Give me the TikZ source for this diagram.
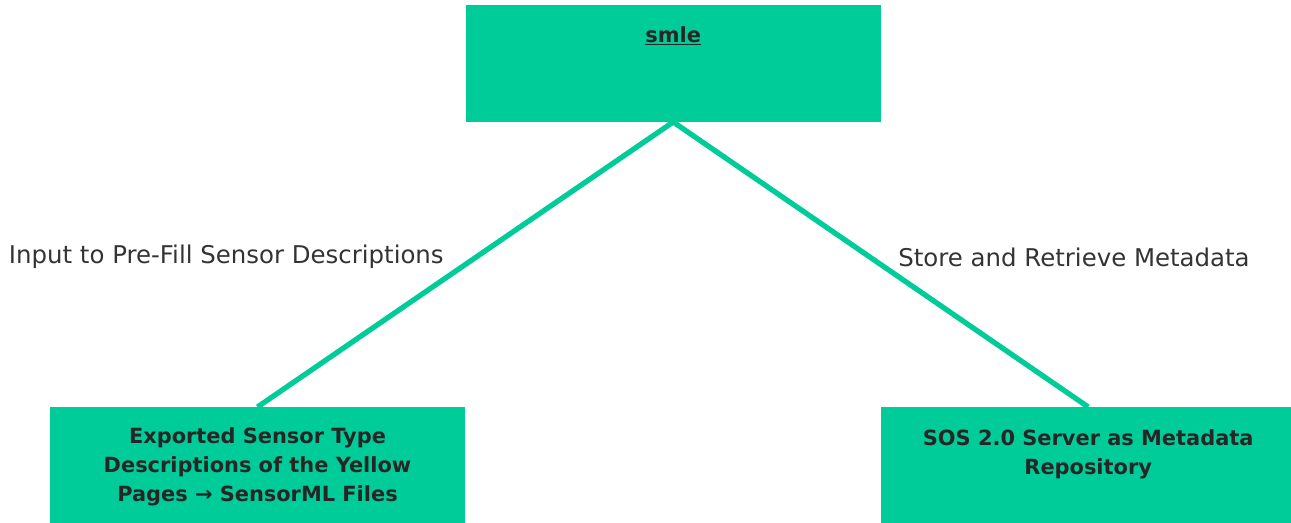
\documentclass[tikz,border=0pt]{standalone}
\usepackage{fontspec}
\setmainfont{DejaVu Sans}
\usetikzlibrary{positioning}

\definecolor{smlegreen}{RGB}{0,204,153}

\tikzset{
	box/.style={fill=smlegreen, minimum width=8.3cm, minimum height=2.36cm, align=center,
		font=\fontsize{11.9pt}{16.5pt}\selectfont\bfseries, text=black!85, inner ysep=0.1cm},
	link/.style={draw=smlegreen, line width=3pt},
	lbl/.style={font=\fontsize{13.9pt}{16pt}\selectfont, text=black!80}
}

\begin{document}
\begin{tikzpicture}

	\path[use as bounding box, clip] (0,0) rectangle (25.82,-10.46);

	\node[box, anchor=north] (yp) at (5.15,-8.14)
	{Exported Sensor Type\\Descriptions of the Yellow\\Pages → SensorML Files};
	\node[box, right=8.3cm of yp] (sos) {SOS 2.0 Server as Metadata\\Repository\\~};
	\node[box, minimum height=2.34cm, above right=5.7cm and 0cm of yp] (smle)
	{\underline{smle}\\~\\~};

	\draw[link]
	(smle.south) -- node[lbl, pos=0.474, left=0.48cm] {Input to Pre-Fill Sensor Descriptions} (yp.north)
	(smle.south) -- node[lbl, pos=0.474, right=0.4cm] {Store and Retrieve Metadata} (sos.north);

\end{tikzpicture}
\end{document}
